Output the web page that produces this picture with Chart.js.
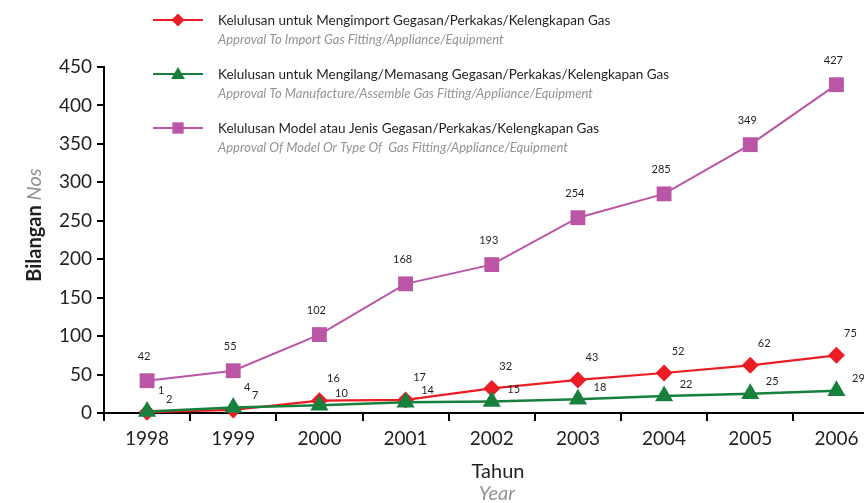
<!DOCTYPE html>
<html><head><meta charset="utf-8">
<script src="https://cdn.jsdelivr.net/npm/chart.js@4/dist/chart.umd.min.js"></script>
<style>
html,body{margin:0;padding:0;overflow:hidden;background:#fff;width:864px;height:503px}
#wrap{position:relative;width:890px;height:503px}
canvas{display:block}
</style>
</head><body><div id="wrap"><canvas id="c" width="890" height="503"></canvas></div>
<script>
const years = ['1998','1999','2000','2001','2002','2003','2004','2005','2006'];
const importApprovals = [1, 4, 16, 17, 32, 43, 52, 62, 75];
const manufactureApprovals = [2, 7, 10, 14, 15, 18, 22, 25, 29];
const modelApprovals = [42, 55, 102, 168, 193, 254, 285, 349, 427];
const yTickValues = [0, 50, 100, 150, 200, 250, 300, 350, 400, 450];
const legendMalay = [
  'Kelulusan untuk Mengimport Gegasan/Perkakas/Kelengkapan Gas',
  'Kelulusan untuk Mengilang/Memasang Gegasan/Perkakas/Kelengkapan Gas',
  'Kelulusan Model atau Jenis Gegasan/Perkakas/Kelengkapan Gas'
];
const legendEnglish = [
  'Approval To Import Gas Fitting/Appliance/Equipment',
  'Approval To Manufacture/Assemble Gas Fitting/Appliance/Equipment',
  'Approval Of Model Or Type Of  Gas Fitting/Appliance/Equipment'
];
const yTitleMain = 'Bilangan';
const yTitleSub = 'Nos';
const xTitleMain = 'Tahun';
const xTitleSub = 'Year';

const FONT = 'Lato, "Open Sans", sans-serif';
const RED = '#ec1c24', GREEN = '#17803d', MAGENTA = '#bb55a5';

// styles per series (legend order: import, manufacture, model)
const styles = [
  {color: RED, pointStyle: 'rectRot', radius: 8.5, width: 2.2, dx: 14, dy: -22},
  {color: GREEN, pointStyle: 'triangle', radius: 10.5, width: 2.5, dx: 22, dy: -12},
  {color: MAGENTA, pointStyle: 'rect', radius: 10.5, width: 2, dx: -3, dy: -24}
];
const seriesData = [importApprovals, manufactureApprovals, modelApprovals];

// draw order: green on top, then red, then magenta
const drawOrder = [1, 0, 2];
const datasets = drawOrder.map(i => ({
  label: legendMalay[i],
  data: seriesData[i],
  borderColor: styles[i].color,
  backgroundColor: styles[i].color,
  pointStyle: styles[i].pointStyle,
  pointRadius: styles[i].radius,
  pointBorderWidth: 0,
  borderWidth: styles[i].width,
  tension: 0,
  clip: false,
  _style: styles[i]
}));

const decor = {
  id: 'decor',
  afterDatasetsDraw(chart) {
    const ctx = chart.ctx;
    ctx.save();
    ctx.font = '11px ' + FONT;
    ctx.fillStyle = '#231f20';
    ctx.textAlign = 'center';
    ctx.textBaseline = 'middle';
    chart.data.datasets.forEach((ds, di) => {
      const meta = chart.getDatasetMeta(di);
      meta.data.forEach((pt, j) => {
        ctx.fillText(String(ds.data[j]), pt.x + ds._style.dx, pt.y + ds._style.dy);
      });
    });
    ctx.restore();
  },
  afterDraw(chart) {
    const ctx = chart.ctx;
    ctx.save();
    const rowY = [20, 74, 128];
    styles.forEach((s, i) => {
      const y = rowY[i];
      ctx.strokeStyle = s.color;
      ctx.lineWidth = 2;
      ctx.beginPath(); ctx.moveTo(153, y); ctx.lineTo(203, y); ctx.stroke();
      ctx.fillStyle = s.color;
      const r = s.pointStyle === 'rect' ? 8 : (s.pointStyle === 'triangle' ? 8 : 6.5);
      Chart.helpers.drawPoint(ctx, {pointStyle: s.pointStyle, radius: r, borderWidth: 0, rotation: 0}, 178, s.pointStyle === 'triangle' ? y + 1 : y);
      ctx.textAlign = 'left';
      ctx.textBaseline = 'middle';
      ctx.fillStyle = '#231f20';
      ctx.font = '13.5px ' + FONT;
      ctx.fillText(legendMalay[i], 218, y + 1);
      ctx.fillStyle = '#939393';
      ctx.font = 'italic 13px ' + FONT;
      ctx.fillText(legendEnglish[i], 218, y + 20);
    });
    ctx.textAlign = 'center';
    ctx.textBaseline = 'middle';
    ctx.fillStyle = '#231f20';
    ctx.font = '20px ' + FONT;
    ctx.fillText(xTitleMain, 498, 472);
    ctx.fillStyle = '#939393';
    ctx.font = 'italic 20px ' + FONT;
    ctx.fillText(xTitleSub, 497, 494);
    ctx.translate(35, 225);
    ctx.rotate(-Math.PI / 2);
    ctx.font = 'bold 20px ' + FONT;
    const w1 = ctx.measureText(yTitleMain + ' ').width;
    ctx.font = 'italic 20px ' + FONT;
    const w2 = ctx.measureText(yTitleSub).width;
    const start = -(w1 + w2) / 2;
    ctx.textAlign = 'left';
    ctx.font = 'bold 20px ' + FONT;
    ctx.fillStyle = '#231f20';
    ctx.fillText(yTitleMain + ' ', start, 0);
    ctx.font = 'italic 20px ' + FONT;
    ctx.fillStyle = '#939393';
    ctx.fillText(yTitleSub, start + w1, 0);
    ctx.restore();
  }
};

new Chart(document.getElementById('c'), {
  type: 'line',
  data: {labels: years, datasets},
  options: {
    responsive: false,
    animation: false,
    devicePixelRatio: 1,
    layout: {padding: {top: 67, left: 0, right: 2, bottom: 0}},
    plugins: {legend: {display: false}, tooltip: {enabled: false}, title: {display: false}},
    scales: {
      x: {
        offset: true,
        grid: {display: true, drawOnChartArea: false, offset: true, tickLength: 8, color: '#000', lineWidth: 2},
        border: {display: true, color: '#000', width: 2},
        ticks: {font: {family: FONT, size: 19}, color: '#231f20', padding: 6, maxRotation: 0},
        afterFit(s) { s.height = 90; }
      },
      y: {
        min: 0, max: 450,
        afterBuildTicks(s) { s.ticks = yTickValues.map(v => ({value: v})); },
        grid: {display: true, drawOnChartArea: false, tickLength: 7, color: '#000', lineWidth: 2},
        border: {display: true, color: '#000', width: 2},
        ticks: {font: {family: FONT, size: 19}, color: '#231f20', padding: 5},
        afterFit(s) { s.width = 104; }
      }
    }
  },
  plugins: [decor]
});
</script>
</body></html>
